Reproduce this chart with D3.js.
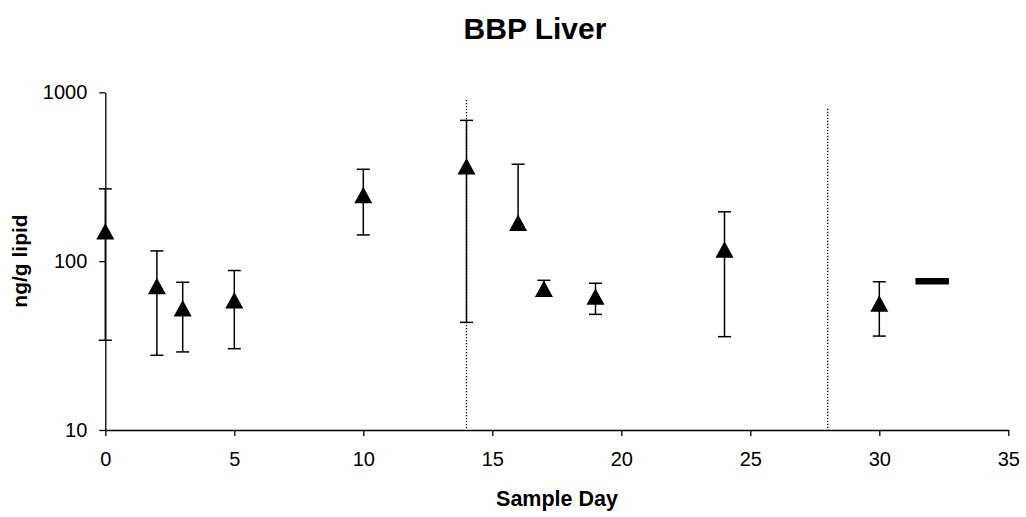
<!DOCTYPE html>
<html>
<head>
<meta charset="utf-8">
<script src="https://cdn.jsdelivr.net/npm/d3@7"></script>
<style>
  html, body { margin: 0; padding: 0; background: #fff; }
  svg { display: block; font-family: Arial, "Liberation Sans", sans-serif; }
</style>
</head>
<body>
<svg id="chart" width="1026" height="517"></svg>
<script>
// ---- data ----
const days  = [0, 2, 3, 5, 10, 14, 16, 17, 19, 24, 30];
const means = [150, 71, 52.5, 58.5, 246, 363, 168, 68.5, 61.5, 117, 56];
const upper = [268, 115, 75, 88, 350, 682, 375, 77, 74, 196, 75.5];
const lower = [34, 27.7, 29, 30.3, 143, 43.4, null, null, 48.4, 35.7, 36];
const refDays = [31.4, 32.7];
const refValue = 76;
const boundaryDays = [14, 28];
const boundaryTops = [900, 800];
const xTicks = [0, 5, 10, 15, 20, 25, 30, 35];
const yTicks = [10, 100, 1000];

// ---- layout ----
const svg = d3.select("#chart");
const x = d3.scaleLinear().domain([0, 35]).range([105.3, 1008.3]);
const y = d3.scaleLog().domain([10, 1000]).range([430, 92.3]);

// dotted boundary lines
svg.append("g").selectAll("line").data(boundaryDays).join("line")
  .attr("x1", d => x(d)).attr("x2", d => x(d))
  .attr("y1", (d, i) => y(boundaryTops[i])).attr("y2", y(10))
  .attr("stroke", "#000").attr("stroke-width", 1.3)
  .attr("stroke-dasharray", "1.3,1.7");

// axes
const xAxis = d3.axisBottom(x).tickValues(xTicks).tickSize(6).tickSizeOuter(0).tickPadding(16)
  .tickFormat(d3.format("d"));
const gx = svg.append("g").attr("transform", `translate(0,${y(10)})`).call(xAxis);
const yAxis = d3.axisLeft(y).tickValues(yTicks).tickSize(6).tickSizeOuter(0).tickPadding(12)
  .tickFormat(d3.format("d"));
const gy = svg.append("g").attr("transform", `translate(${x(0)},0)`).call(yAxis);
[gx, gy].forEach(g => {
  g.select(".domain").attr("stroke", "#000").attr("stroke-width", 1.3);
  g.selectAll(".tick line").attr("stroke", "#000").attr("stroke-width", 1.3);
  g.selectAll(".tick text").attr("fill", "#000").style("font-size", "20px")
    .style("font-family", "Arial, 'Liberation Sans', sans-serif");
});

// error bars
const pts = days.map((d, i) => ({ d, m: means[i], u: upper[i], l: lower[i] }));
const eb = svg.append("g").attr("stroke", "#000").attr("stroke-width", 1.5);
pts.forEach(p => {
  const top = p.u != null ? p.u : p.m;
  const bot = p.l != null ? p.l : p.m;
  eb.append("line").attr("x1", x(p.d)).attr("x2", x(p.d)).attr("y1", y(top)).attr("y2", y(bot));
  if (p.u != null) eb.append("line").attr("x1", x(p.d) - 6.5).attr("x2", x(p.d) + 6.5)
    .attr("y1", y(p.u)).attr("y2", y(p.u));
  if (p.l != null) eb.append("line").attr("x1", x(p.d) - 6.5).attr("x2", x(p.d) + 6.5)
    .attr("y1", y(p.l)).attr("y2", y(p.l));
});

// triangle markers
const tri = "M0,-8.5L9,8L-9,8Z";
svg.append("g").selectAll("path").data(pts).join("path")
  .attr("d", tri)
  .attr("transform", p => `translate(${x(p.d)},${y(p.m)})`)
  .attr("fill", "#000");

// reference bar
svg.append("line")
  .attr("x1", x(refDays[0])).attr("x2", x(refDays[1]))
  .attr("y1", y(refValue)).attr("y2", y(refValue))
  .attr("stroke", "#000").attr("stroke-width", 6.5);

// titles
svg.append("text").attr("x", 535).attr("y", 39).attr("text-anchor", "middle")
  .style("font-size", "30px").style("font-weight", "bold").text("BBP Liver");
svg.append("text").attr("x", 557).attr("y", 506).attr("text-anchor", "middle")
  .style("font-size", "21.5px").style("font-weight", "bold").text("Sample Day");
svg.append("text").attr("transform", "translate(27,261) rotate(-90)").attr("text-anchor", "middle")
  .style("font-size", "21px").style("font-weight", "bold").text("ng/g lipid");
</script>
</body>
</html>
